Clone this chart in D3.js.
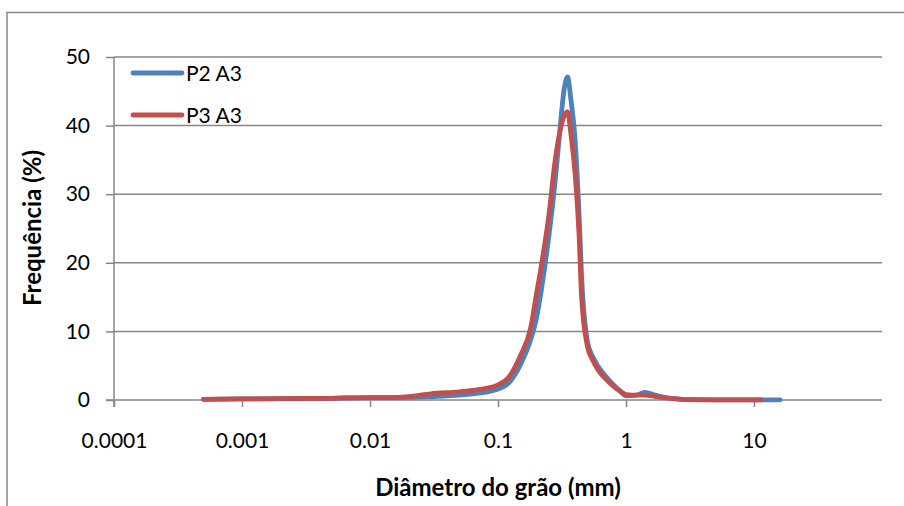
<!DOCTYPE html>
<html><head><meta charset="utf-8">
<script src="https://cdn.jsdelivr.net/npm/d3@7"></script>
<style>body{margin:0;background:#fff}svg{display:block}</style>
</head><body>
<svg id="c" width="904" height="506"></svg>
<script>
const diameters = [0.0005,0.001,0.002,0.005,0.01,0.015,0.02,0.03,0.05,0.07,0.1,0.12,0.15,0.18,0.2,0.22,0.25,0.28,0.3,0.33,0.35,0.37,0.4,0.43,0.45,0.5,0.55,0.6,0.7,0.8,0.9,1.0,1.2,1.4,1.7,2,2.5,3,5,10,11.5,16];
const p2a3 = [0.1,0.15,0.2,0.25,0.35,0.35,0.4,0.5,0.7,1.0,1.6,2.4,5.2,8.8,12,16.5,24,32,38,45.5,47.1,44,38,27,18,8.5,6.3,5.0,3.4,2.2,1.3,0.6,0.7,1.1,0.7,0.4,0.15,0.05,0.02,0.02,0.02,0.02];
const p3a3 = [0.1,0.15,0.2,0.25,0.35,0.35,0.5,0.9,1.2,1.5,2.2,3.2,6.5,10.5,15.5,20,27,35,38.5,41.5,42,39,33,24,15,7.8,5.8,4.5,3.0,2.0,1.3,0.8,0.7,0.7,0.5,0.35,0.15,0.05,0.02,0.02,0.02,null];
const seriesNames = ["P2 A3","P3 A3"];
const seriesColors = ["#4F81BD","#C0504D"];
const xTicks = [0.0001,0.001,0.01,0.1,1,10];
const xTickLabels = ["0.0001","0.001","0.01","0.1","1","10"];
const yTicks = [0,10,20,30,40,50];

const svg = d3.select("#c");
const font = "Lato, 'Open Sans', sans-serif";
const grid = "#868686";

// outer chart border
svg.append("rect").attr("x",7).attr("y",12.5).attr("width",910).attr("height",520)
  .attr("fill","none").attr("stroke",grid).attr("stroke-width",1.5);

const x = d3.scaleLog().domain([1e-4,1e2]).range([114,882]);
const y = d3.scaleLinear().domain([0,50]).range([400,57]);

// gridlines
svg.append("g").selectAll("line").data(yTicks.filter(d=>d>0)).join("line")
  .attr("x1",114).attr("x2",882).attr("y1",d=>y(d)).attr("y2",d=>y(d))
  .attr("stroke",grid).attr("stroke-width",1.5);

// y axis
const yAx = svg.append("g").attr("transform","translate(114,0)")
  .call(d3.axisLeft(y).tickValues(yTicks).tickSize(8).tickPadding(16).tickFormat(d3.format("d")));
yAx.select(".domain").attr("stroke",grid).attr("stroke-width",1.5).attr("d","M0,57V407");
yAx.selectAll(".tick line").attr("stroke",grid).attr("stroke-width",1.5);
yAx.selectAll("text").attr("font-family",font).attr("font-size",21).attr("fill","#000");

// x axis
const xAx = svg.append("g").attr("transform","translate(0,400)")
  .call(d3.axisBottom(x).tickValues(xTicks).tickSize(7).tickPadding(26).tickFormat((d,i)=>xTickLabels[i]));
xAx.select(".domain").attr("stroke",grid).attr("stroke-width",1.5).attr("d","M106,0H882");
xAx.selectAll(".tick line").attr("stroke",grid).attr("stroke-width",1.5);
xAx.selectAll("text").attr("font-family",font).attr("font-size",21).attr("fill","#000");

// lines
const line = d3.line().defined(d=>d[1]!=null).x(d=>x(d[0])).y(d=>y(d[1])).curve(d3.curveMonotoneX);
[p2a3,p3a3].forEach((vals,i)=>{
  svg.append("path").datum(diameters.map((d,j)=>[d,vals[j]]))
    .attr("d",line).attr("fill","none").attr("stroke",seriesColors[i])
    .attr("stroke-width",4.8).attr("stroke-linecap","round").attr("stroke-linejoin","round");
});

// legend
const lg = svg.append("g");
seriesNames.forEach((n,i)=>{
  const ly = 73 + i*42;
  lg.append("line").attr("x1",133).attr("x2",182).attr("y1",ly).attr("y2",ly)
    .attr("stroke",seriesColors[i]).attr("stroke-width",4.8).attr("stroke-linecap","round");
  lg.append("text").attr("x",186).attr("y",ly).attr("dy","0.36em").text(n)
    .attr("font-family",font).attr("font-size",21).attr("fill","#000");
});

// axis titles
svg.append("text").attr("x",498).attr("y",488).attr("dy","0.35em").attr("text-anchor","middle")
  .attr("font-family",font).attr("font-size",24).attr("font-weight","bold").text("Diâmetro do grão (mm)");
svg.append("text").attr("transform","translate(33,228) rotate(-90)").attr("dy","0.35em").attr("text-anchor","middle")
  .attr("font-family",font).attr("font-size",24).attr("font-weight","bold").text("Frequência (%)");
</script>
</body></html>
